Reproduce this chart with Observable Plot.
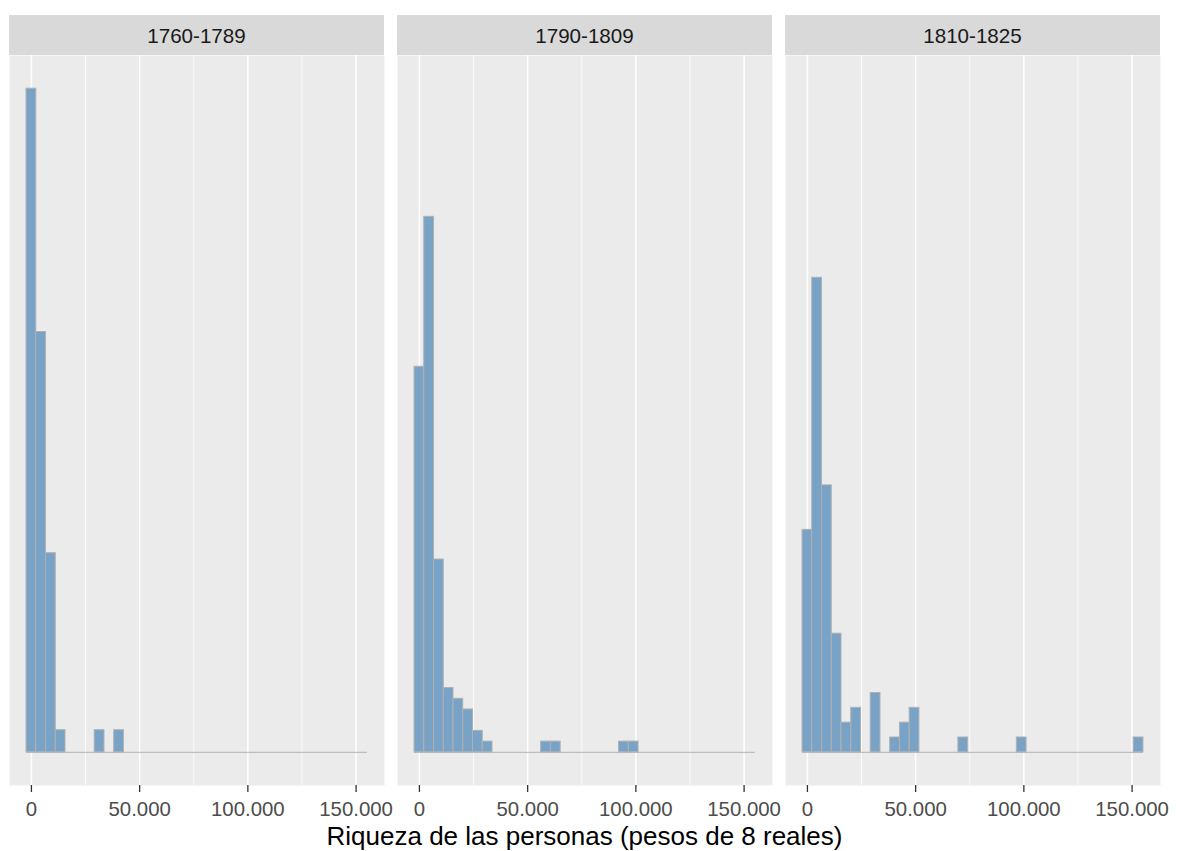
<!DOCTYPE html>
<html>
<head>
<meta charset="utf-8">
<script src="https://cdn.jsdelivr.net/npm/d3@7"></script>
<script src="https://cdn.jsdelivr.net/npm/@observablehq/plot@0.6"></script>
<style>
  html, body { margin: 0; padding: 0; background: #ffffff; }
  #root { position: relative; width: 1179px; height: 851px; font-family: "Liberation Sans", Arial, sans-serif; overflow: hidden; }
  .strip { position: absolute; background: #D9D9D9; color: #1A1A1A; font-size: 20.6px; display: flex; align-items: center; justify-content: center; box-sizing: border-box; padding-top: 3px; }
  #title { position: absolute; color: #000; font-size: 26px; line-height: 26px; text-align: center; white-space: nowrap; }
  #chart { position: absolute; left: 0; top: 55px; }
</style>
</head>
<body>
<div id="root">
  <div id="chart"></div>
  <div id="title"></div>
</div>
<script>
// ---- data ----
const periods = ["1760-1789", "1790-1809", "1810-1825"];
const binWidth = 4500;            // pesos per bin (35 bins, first centred on 0)
const counts1760 = [30,19,9,1,0,0,0,1,0,1, 0,0,0,0,0,0,0,0,0,0, 0,0,0,0,0,0,0,0,0,0, 0,0,0,0,0];
const counts1790 = [36,50,18,6,5,4,2,1,0,0, 0,0,0,1,1,0,0,0,0,0, 0,1,1,0,0,0,0,0,0,0, 0,0,0,0,0];
const counts1810 = [15,32,18,8,2,3,0,4,0,1, 2,3,0,0,0,0,1,0,0,0, 0,0,1,0,0,0,0,0,0,0, 0,0,0,0,1];
const xTicks = [0, 50000, 100000, 150000];
const xMinorTicks = [25000, 75000, 125000];
const xTitle = "Riqueza de las personas (pesos de 8 reales)";

// ---- build table ----
const countsByPeriod = [counts1760, counts1790, counts1810];
const rows = [];
periods.forEach((p, k) => {
  const c = countsByPeriod[k];
  const n = d3.sum(c);
  c.forEach((v, i) => {
    if (v > 0) rows.push({period: p, x1: i * binWidth - binWidth / 2, x2: i * binWidth + binWidth / 2, share: v / n});
  });
});
const nBins = counts1760.length;
const binStart = -binWidth / 2;
const binEnd = (nBins - 0.5) * binWidth;
const span = binEnd - binStart;
const xDomain = [binStart - 0.05 * span, binEnd + 0.05 * span];
const yMax = d3.max(rows, d => d.share);
const yDomain = [-0.05 * yMax, 1.05 * yMax];

const locale = d3.formatLocale({decimal: ",", thousands: ".", grouping: [3], currency: ["", ""]});
const fmt = locale.format(",");

const chart = Plot.plot({
  width: 1179,
  height: 765,
  marginTop: 0,
  marginBottom: 35,
  marginLeft: 8.3,
  marginRight: 18.9,
  style: {fontFamily: "Liberation Sans, Arial, sans-serif", background: "transparent", overflow: "visible"},
  fx: {domain: periods, paddingInner: 0.0345, paddingOuter: 0, axis: null, label: null},
  x: {domain: xDomain, label: null},
  y: {domain: yDomain, axis: null},
  marks: [
    Plot.frame({fill: "#EBEBEB", stroke: "none"}),
    Plot.ruleX(xMinorTicks, {stroke: "#ffffff", strokeWidth: 0.8}),
    Plot.ruleX(xTicks, {stroke: "#ffffff", strokeWidth: 1.5}),
    Plot.ruleY(periods, {fx: d => d, y: 0, x1: binStart, x2: binEnd, stroke: "#B4B4B4", strokeWidth: 1}),
    Plot.rectY(rows, {fx: "period", x1: "x1", x2: "x2", y1: 0, y2: "share", fill: "#78A2C6", stroke: "#B0B0B0", strokeWidth: 1}),
    Plot.axisX(xTicks, {tickSize: 7, tickPadding: 9, tickFormat: fmt, fontSize: 20.4, stroke: "#333333", strokeWidth: 1.3, fill: "#4D4D4D", label: null})
  ]
});
document.getElementById("chart").appendChild(chart);

// strips
const fx = chart.scale("fx");
const root = document.getElementById("root");
periods.forEach(p => {
  const d = document.createElement("div");
  d.className = "strip";
  d.textContent = p;
  d.style.left = fx.apply(p) + "px";
  d.style.width = fx.bandwidth + "px";
  d.style.top = "14.7px";
  d.style.height = "40.3px";
  root.appendChild(d);
});
// title
const t = document.getElementById("title");
t.textContent = xTitle;
const l = fx.apply(periods[0]);
const r = fx.apply(periods[periods.length - 1]) + fx.bandwidth;
t.style.left = l + "px";
t.style.width = (r - l) + "px";
t.style.top = "823px";
</script>
</body>
</html>
